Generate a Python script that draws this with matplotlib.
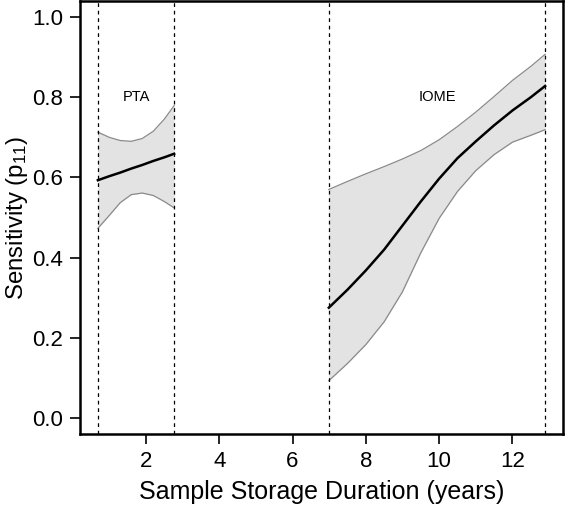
import matplotlib
matplotlib.use("Agg")
import matplotlib.pyplot as plt

plt.rcParams["font.family"] = ["Liberation Sans", "DejaVu Sans"]

# PTA segment (years, estimated sensitivity and 95% band)
pta_x = [0.69, 1.0, 1.3, 1.6, 1.9, 2.2, 2.5, 2.77]
pta_mid = [0.593, 0.603, 0.612, 0.622, 0.631, 0.641, 0.650, 0.659]
pta_hi = [0.713, 0.700, 0.692, 0.690, 0.697, 0.715, 0.745, 0.779]
pta_lo = [0.473, 0.505, 0.537, 0.557, 0.561, 0.555, 0.540, 0.524]

# IOME segment
iome_x = [6.99, 7.5, 8.0, 8.5, 9.0, 9.5, 10.0, 10.5, 11.0, 11.5, 12.0, 12.5, 12.89]
iome_mid = [0.275, 0.320, 0.368, 0.420, 0.480, 0.540, 0.597, 0.648, 0.690, 0.730, 0.767, 0.800, 0.828]
iome_hi = [0.570, 0.590, 0.609, 0.627, 0.646, 0.667, 0.694, 0.727, 0.763, 0.802, 0.842, 0.877, 0.907]
iome_lo = [0.093, 0.136, 0.183, 0.240, 0.315, 0.412, 0.498, 0.565, 0.617, 0.657, 0.688, 0.705, 0.719]

vlines = [0.69, 2.77, 6.99, 12.89]
labels = [("PTA", 1.73), ("IOME", 9.94)]

fig = plt.figure(figsize=(5.66, 5.07), dpi=100)
ax = fig.add_axes([0.1413, 0.144, 0.8534, 0.854])

for xs, mid, hi, lo in [(pta_x, pta_mid, pta_hi, pta_lo), (iome_x, iome_mid, iome_hi, iome_lo)]:
    ax.fill_between(xs, lo, hi, color="#e3e3e3", lw=0)
    ax.plot(xs, hi, color="#8a8a8a", lw=0.9)
    ax.plot(xs, lo, color="#8a8a8a", lw=0.9)
    ax.plot(xs, mid, color="black", lw=1.8)

for v in vlines:
    ax.axvline(v, color="black", lw=0.9, ls=(0, (3, 3)))

for txt, xpos in labels:
    ax.text(xpos, 0.8, txt, ha="center", va="center", fontsize=10.5)

ax.set_xlim(0.202, 13.378)
ax.set_ylim(-0.04, 1.04)
ax.set_xticks([2, 4, 6, 8, 10, 12])
ax.set_yticks([0.0, 0.2, 0.4, 0.6, 0.8, 1.0])
ax.set_yticklabels(["0.0", "0.2", "0.4", "0.6", "0.8", "1.0"])
ax.tick_params(labelsize=16, length=7, width=1.2, pad=5)
for s in ax.spines.values():
    s.set_linewidth(1.8)

ax.set_xlabel("Sample Storage Duration (years)", fontsize=18, labelpad=6)
ax.set_ylabel(r"Sensitivity (p$\mathregular{_{11}}$)", fontsize=17.3)
ax.yaxis.set_label_coords(-0.104, 0.5)

fig.savefig("out.png", dpi=100)
